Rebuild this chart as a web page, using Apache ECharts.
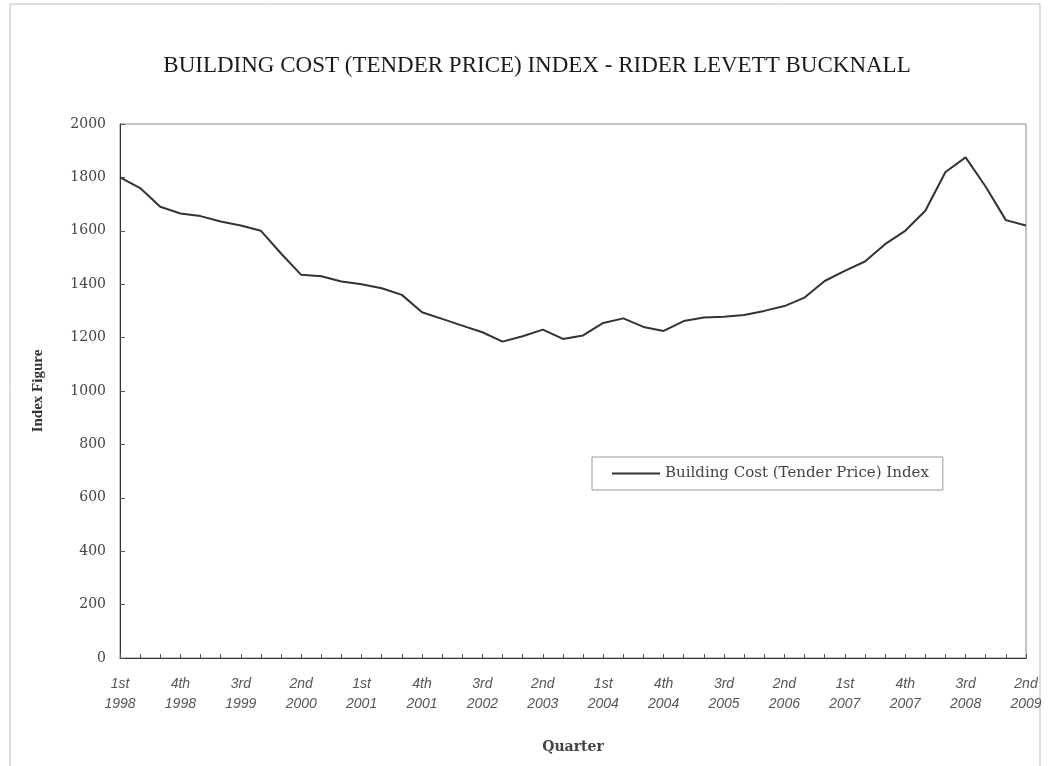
<!DOCTYPE html>
<html>
<head>
<meta charset="utf-8">
<script src="https://cdn.jsdelivr.net/npm/echarts@6/dist/echarts.min.js"></script>
<style>html,body{margin:0;padding:0;background:#fff}#c{width:1048px;height:766px}</style>
</head>
<body>
<div id="c"></div>
<script>
var quarters = [];
var qNames = ['1st','2nd','3rd','4th'];
for (var yr = 1998; yr <= 2009; yr++) {
  for (var q = 0; q < 4; q++) {
    if (yr === 2009 && q > 1) break;
    quarters.push(qNames[q] + '\n' + yr);
  }
}
var indexValues = [1800,1760,1690,1665,1655,1635,1620,1600,1515,1435,1430,1410,1400,1385,1360,1295,1270,1245,1220,1185,1205,1230,1195,1208,1255,1272,1240,1225,1262,1275,1278,1285,1300,1318,1350,1412,1450,1485,1550,1600,1675,1820,1875,1765,1640,1620];
var seriesName = 'Building Cost (Tender Price) Index';
var titleText = 'BUILDING COST (TENDER PRICE) INDEX - RIDER LEVETT BUCKNALL';

var chart = echarts.init(document.getElementById('c'));
chart.setOption({
  animation: false,
  backgroundColor: '#fff',
  title: {
    text: titleText,
    left: 532, top: 49, textAlign: 'center',
    textStyle: { fontFamily: 'Liberation Serif', fontSize: 23, fontWeight: 'normal', color: '#1a1a1a' }
  },
  graphic: [{
    type: 'rect', shape: { x: 10, y: 4, width: 1030, height: 770 },
    style: { fill: 'none', stroke: '#bbb', lineWidth: 1 }, silent: true
  }],
  legend: {
    data: [seriesName],
    left: 592, top: 457,
    padding: [9, 14, 9, 20],
    borderColor: '#999', borderWidth: 1,
    itemWidth: 48, itemHeight: 2,
    icon: 'rect',
    textStyle: { fontFamily: 'DejaVu Serif', fontSize: 15, color: '#444' }
  },
  grid: { left: 120, right: 22, top: 124, bottom: 108, show: true, borderColor: '#888', borderWidth: 1 },
  xAxis: {
    type: 'category', data: quarters, boundaryGap: false,
    name: 'Quarter', nameLocation: 'middle', nameGap: 82,
    nameTextStyle: { fontFamily: 'DejaVu Serif', fontSize: 14, fontWeight: 'bold', color: '#444' },
    axisLine: { lineStyle: { color: '#333' } },
    axisTick: { inside: true, length: 4, interval: 0, lineStyle: { color: '#555' } },
    axisLabel: { interval: 2, margin: 16, fontFamily: 'Liberation Sans', fontStyle: 'italic', fontSize: 14, color: '#555', lineHeight: 20 }
  },
  yAxis: {
    type: 'value', min: 0, max: 2000, interval: 200,
    name: 'Index Figure', nameLocation: 'middle', nameGap: 74,
    nameTextStyle: { fontFamily: 'Liberation Serif', fontSize: 15, fontWeight: 'bold', color: '#333' },
    axisLine: { show: true, lineStyle: { color: '#333' } },
    axisTick: { show: true, inside: true, length: 5, lineStyle: { color: '#555' } },
    splitLine: { show: false },
    axisLabel: { margin: 14, fontFamily: 'DejaVu Serif', fontSize: 14, color: '#444', formatter: function (v) { return String(v); } }
  },
  series: [{
    name: seriesName, type: 'line', data: indexValues,
    showSymbol: false, symbol: 'none',
    lineStyle: { color: '#333', width: 2 },
    itemStyle: { color: '#333' }
  }]
});
</script>
</body>
</html>
